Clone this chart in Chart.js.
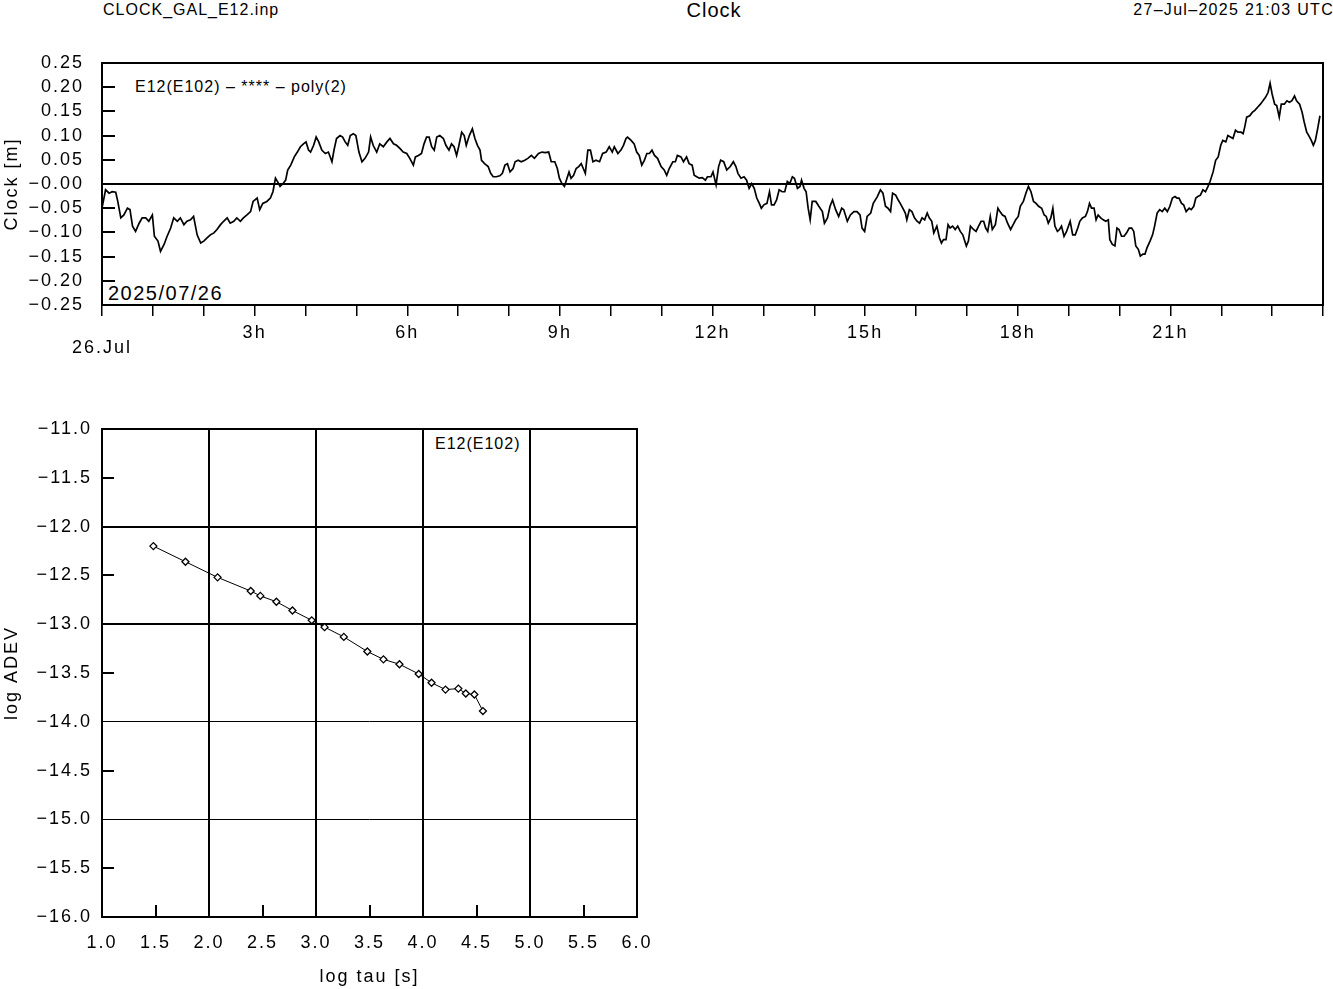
<!DOCTYPE html>
<html>
<head>
<meta charset="utf-8">
<script src="https://cdn.jsdelivr.net/npm/chart.js@4.4.0/dist/chart.umd.min.js"></script>
<style>
  body { margin: 0; background: #fff; width: 1333px; height: 989px; overflow: hidden; position: relative;
         font-family: 'Liberation Sans', Arial, Helvetica, sans-serif; color: #000; }
  .txt { position: absolute; white-space: nowrap; line-height: 1; }
  #clockChart { position: absolute; left: 0; top: 0; }
  #adevChart { position: absolute; left: 0; top: 370px; }
</style>
</head>
<body>
<div class="txt" style="left:103px; top:2px; font-size:16px; letter-spacing:1px;">CLOCK_GAL_E12.inp</div>
<div class="txt" style="left:714px; top:0px; font-size:20px; letter-spacing:1px; transform:translateX(-50%);">Clock</div>
<div class="txt" style="right:-1px; top:2px; font-size:16px; letter-spacing:1.3px;">27–Jul–2025 21:03 UTC</div>
<div class="txt" style="left:135px; top:79px; font-size:16px; letter-spacing:1px;">E12(E102) – **** – poly(2)</div>
<div class="txt" style="left:108px; top:283px; font-size:20px; letter-spacing:1.5px;">2025/07/26</div>
<div class="txt" style="left:435px; top:436px; font-size:16px; letter-spacing:1px;">E12(E102)</div>

<canvas id="clockChart" width="1333" height="370"></canvas>
<canvas id="adevChart" width="1333" height="619"></canvas>

<script>
// clock residuals, hours since 26.Jul 00:00 UTC  / metres
const clockHours = [
  0.00, 0.07, 0.14, 0.20, 0.27, 0.31, 0.37, 0.43, 0.50, 0.55, 0.60, 0.66, 0.73, 0.79, 0.86, 0.92, 0.99,
  1.03, 1.10, 1.15, 1.22, 1.28, 1.35, 1.41, 1.48, 1.54, 1.61, 1.67, 1.74, 1.80, 1.87, 1.94,
  2.00, 2.07, 2.13, 2.20, 2.26, 2.33, 2.39, 2.46, 2.52, 2.59, 2.65, 2.72, 2.78, 2.85, 2.92, 2.97,
  3.05, 3.10, 3.16, 3.24, 3.31, 3.36, 3.41, 3.45, 3.50, 3.56, 3.61, 3.65, 3.71, 3.78, 3.84, 3.90, 3.96,
  4.01, 4.06, 4.10, 4.16, 4.21, 4.26, 4.32, 4.39, 4.45, 4.52, 4.56, 4.61, 4.68, 4.73, 4.78, 4.83, 4.88, 4.94, 4.99,
  5.05, 5.11, 5.17, 5.24, 5.28, 5.33, 5.40, 5.46, 5.53, 5.60, 5.66, 5.73, 5.79, 5.86, 5.92, 5.99,
  6.05, 6.12, 6.16, 6.22, 6.28, 6.33, 6.38, 6.43, 6.48, 6.53, 6.58, 6.64, 6.71, 6.76, 6.82, 6.87, 6.92, 6.97,
  7.01, 7.07, 7.12, 7.16, 7.22, 7.28, 7.33, 7.38, 7.43, 7.46, 7.52, 7.59, 7.64, 7.69, 7.75, 7.82, 7.87, 7.92, 7.97,
  8.02, 8.08, 8.12, 8.18, 8.24, 8.31, 8.37, 8.44, 8.50, 8.58, 8.65, 8.71, 8.78, 8.83, 8.90, 8.95, 8.99,
  9.04, 9.09, 9.14, 9.18, 9.22, 9.27, 9.32, 9.37, 9.42, 9.46, 9.50, 9.55, 9.60, 9.65, 9.71, 9.78, 9.84, 9.91, 9.97,
  10.03, 10.07, 10.14, 10.20, 10.25, 10.30, 10.33, 10.40, 10.46, 10.51, 10.56, 10.61, 10.66, 10.71, 10.76, 10.81, 10.86, 10.92, 10.99,
  11.05, 11.10, 11.15, 11.22, 11.27, 11.31, 11.38, 11.43, 11.49, 11.54, 11.60, 11.64, 11.69, 11.74, 11.80, 11.86, 11.90, 11.97,
  12.01, 12.07, 12.12, 12.16, 12.22, 12.28, 12.35, 12.41, 12.46, 12.50, 12.56, 12.62, 12.67, 12.72, 12.77, 12.82, 12.87, 12.92, 12.96,
  13.01, 13.07, 13.12, 13.16, 13.21, 13.26, 13.31, 13.37, 13.42, 13.47, 13.52, 13.57, 13.61, 13.67, 13.72, 13.75, 13.80, 13.84, 13.88, 13.92, 13.96,
  14.03, 14.09, 14.16, 14.20, 14.26, 14.31, 14.36, 14.42, 14.48, 14.54, 14.58, 14.65, 14.71, 14.78, 14.84, 14.90, 14.94, 14.99,
  15.04, 15.11, 15.16, 15.24, 15.30, 15.35, 15.40, 15.45, 15.50, 15.54, 15.60, 15.65, 15.69, 15.74, 15.79, 15.82, 15.87, 15.92, 15.97,
  16.02, 16.07, 16.12, 16.17, 16.22, 16.26, 16.31, 16.35, 16.41, 16.46, 16.50, 16.54, 16.59, 16.63, 16.67, 16.72, 16.77, 16.82, 16.87, 16.92, 16.95, 16.99,
  17.03, 17.07, 17.13, 17.18, 17.23, 17.28, 17.33, 17.37, 17.41, 17.46, 17.50, 17.56, 17.61, 17.65, 17.70, 17.75, 17.80, 17.86, 17.91, 17.96,
  18.01, 18.05, 18.11, 18.16, 18.21, 18.26, 18.31, 18.36, 18.41, 18.47, 18.52, 18.56, 18.60, 18.65, 18.69, 18.73, 18.78, 18.82, 18.86, 18.91, 18.96,
  19.03, 19.08, 19.13, 19.18, 19.22, 19.27, 19.33, 19.37, 19.41, 19.45, 19.50, 19.54, 19.58, 19.63, 19.68, 19.73, 19.78, 19.81, 19.86, 19.91, 19.95, 19.99,
  20.04, 20.09, 20.14, 20.19, 20.24, 20.28, 20.32, 20.37, 20.41, 20.46, 20.50, 20.54, 20.60, 20.65, 20.69, 20.74, 20.79, 20.84, 20.89, 20.94, 20.99,
  21.04, 21.09, 21.13, 21.17, 21.22, 21.26, 21.31, 21.37, 21.41, 21.46, 21.50, 21.54, 21.59, 21.64, 21.69, 21.74, 21.78, 21.84, 21.89, 21.94, 21.99,
  22.03, 22.09, 22.13, 22.18, 22.23, 22.28, 22.33, 22.39, 22.43, 22.46, 22.50, 22.56, 22.61, 22.66, 22.71, 22.77, 22.82, 22.87, 22.92, 22.96,
  23.00, 23.05, 23.09, 23.14, 23.18, 23.24, 23.29, 23.34, 23.39, 23.44, 23.48, 23.54, 23.59, 23.63, 23.68, 23.72, 23.77, 23.81, 23.85, 23.90, 23.94
];
const clockValues = [
  -0.050, -0.012, -0.019, -0.016, -0.017, -0.036, -0.070, -0.064, -0.050, -0.053, -0.087, -0.098, -0.081, -0.070, -0.070, -0.077, -0.064,
  -0.108, -0.118, -0.139, -0.125, -0.108, -0.091, -0.070, -0.077, -0.070, -0.084, -0.077, -0.074, -0.067, -0.105, -0.122,
  -0.118, -0.111, -0.105, -0.101, -0.094, -0.084, -0.077, -0.070, -0.081, -0.077, -0.070, -0.077, -0.070, -0.064, -0.057, -0.036,
  -0.029, -0.053, -0.040, -0.036, -0.029, -0.016, 0.012, 0.005, -0.005, 0.001, 0.008, 0.029, 0.039, 0.056, 0.066, 0.077, 0.083,
  0.087, 0.070, 0.066, 0.080, 0.097, 0.087, 0.070, 0.063, 0.066, 0.046, 0.070, 0.094, 0.100, 0.097, 0.087, 0.080, 0.100, 0.104, 0.100,
  0.066, 0.046, 0.053, 0.066, 0.097, 0.080, 0.066, 0.083, 0.077, 0.087, 0.094, 0.083, 0.080, 0.073, 0.066, 0.063,
  0.053, 0.039, 0.056, 0.059, 0.063, 0.083, 0.097, 0.097, 0.077, 0.070, 0.097, 0.100, 0.094, 0.080, 0.070, 0.083, 0.077, 0.059,
  0.077, 0.107, 0.100, 0.080, 0.100, 0.114, 0.094, 0.080, 0.070, 0.049, 0.042, 0.036, 0.022, 0.015, 0.015, 0.017, 0.022, 0.039, 0.042,
  0.025, 0.032, 0.046, 0.049, 0.046, 0.049, 0.053, 0.059, 0.053, 0.063, 0.066, 0.065, 0.066, 0.046, 0.046, 0.032, 0.012,
  0.001, -0.005, 0.012, 0.025, 0.012, 0.018, 0.032, 0.036, 0.042, 0.032, 0.022, 0.070, 0.070, 0.046, 0.049, 0.046, 0.063, 0.066, 0.077,
  0.066, 0.077, 0.063, 0.070, 0.080, 0.094, 0.097, 0.090, 0.083, 0.066, 0.059, 0.039, 0.049, 0.063, 0.063, 0.070, 0.059, 0.053, 0.036,
  0.029, 0.018, 0.032, 0.046, 0.046, 0.059, 0.056, 0.046, 0.056, 0.042, 0.039, 0.018, 0.015, 0.012, 0.013, 0.008, 0.015, 0.015,
  0.025, -0.002, 0.036, 0.049, 0.046, 0.029, 0.036, 0.046, 0.036, 0.022, 0.012, 0.015, 0.008, -0.009, 0.001, -0.009, -0.029, -0.040, -0.050,
  -0.043, -0.040, -0.016, -0.043, -0.043, -0.033, -0.012, -0.016, -0.016, 0.005, 0.001, 0.015, 0.012, -0.009, -0.005, 0.008, -0.009, -0.016, -0.050, -0.074, -0.036,
  -0.036, -0.046, -0.057, -0.081, -0.070, -0.046, -0.033, -0.053, -0.067, -0.050, -0.053, -0.077, -0.064, -0.057, -0.057, -0.064, -0.091, -0.098,
  -0.067, -0.060, -0.040, -0.026, -0.012, -0.019, -0.046, -0.050, -0.057, -0.019, -0.023, -0.033, -0.040, -0.050, -0.060, -0.074, -0.053, -0.057, -0.070,
  -0.077, -0.081, -0.070, -0.074, -0.060, -0.070, -0.077, -0.101, -0.087, -0.111, -0.122, -0.115, -0.115, -0.084, -0.091, -0.087, -0.094, -0.087, -0.098, -0.105, -0.115, -0.128,
  -0.118, -0.087, -0.094, -0.098, -0.087, -0.077, -0.077, -0.091, -0.098, -0.067, -0.094, -0.084, -0.050, -0.057, -0.064, -0.067, -0.081, -0.094, -0.084, -0.074,
  -0.067, -0.046, -0.036, -0.019, -0.005, -0.016, -0.036, -0.040, -0.046, -0.050, -0.064, -0.067, -0.081, -0.070, -0.050, -0.087, -0.098, -0.094, -0.087, -0.108, -0.098,
  -0.077, -0.105, -0.105, -0.091, -0.077, -0.070, -0.067, -0.057, -0.040, -0.050, -0.050, -0.074, -0.064, -0.070, -0.074, -0.077, -0.074, -0.115, -0.125, -0.128, -0.091, -0.094,
  -0.108, -0.108, -0.101, -0.091, -0.091, -0.098, -0.128, -0.135, -0.149, -0.145, -0.145, -0.132, -0.118, -0.105, -0.087, -0.060, -0.053, -0.057, -0.050, -0.057, -0.046,
  -0.029, -0.026, -0.029, -0.029, -0.040, -0.043, -0.057, -0.050, -0.053, -0.046, -0.029, -0.026, -0.023, -0.012, -0.016, -0.005, 0.005, 0.025, 0.049, 0.056, 0.080,
  0.090, 0.087, 0.100, 0.097, 0.094, 0.111, 0.107, 0.107, 0.104, 0.117, 0.138, 0.141, 0.148, 0.152, 0.158, 0.165, 0.172, 0.179, 0.189, 0.208,
  0.186, 0.165, 0.162, 0.138, 0.165, 0.165, 0.172, 0.169, 0.172, 0.182, 0.172, 0.165, 0.148, 0.128, 0.107, 0.100, 0.090, 0.080, 0.090, 0.117, 0.141
];

// Allan deviation: log10(tau [s]) / log10(ADEV)
const adevLogTau = [1.48, 1.78, 2.08, 2.39, 2.48, 2.63, 2.78, 2.96, 3.08, 3.26,
                    3.48, 3.63, 3.78, 3.96, 4.08, 4.21, 4.33, 4.40, 4.48, 4.56];
const adevLogSigma = [-12.20, -12.36, -12.52, -12.66, -12.71, -12.77, -12.86, -12.96, -13.03, -13.13,
                      -13.28, -13.36, -13.41, -13.51, -13.60, -13.67, -13.66, -13.71, -13.72, -13.89];

const clockHourLabels = { 0: ['', '26.Jul'], 3: '3h', 6: '6h', 9: '9h', 12: '12h', 15: '15h', 18: '18h', 21: '21h' };

const MINUS = '\u2212';
const FONT = "'Liberation Sans', Arial, Helvetica, sans-serif";

// box around the plot area, inside ticks, letter spacing for canvas text
const framePlugin = {
    id: 'frame',
    beforeUpdate(chart) { chart.ctx.letterSpacing = '2px'; },
    beforeLayout(chart) { chart.ctx.letterSpacing = '2px'; },
    beforeDraw(chart) { chart.ctx.letterSpacing = '2px'; },
    afterDraw(chart, args, opts) {
        const { ctx, chartArea: a, scales } = chart;
        ctx.save();
        ctx.strokeStyle = '#000';
        ctx.lineWidth = 2;
        ctx.strokeRect(a.left, a.top, a.right - a.left, a.bottom - a.top);
        (opts.insideAxes || []).forEach(id => {
            const s = scales[id];
            s.ticks.forEach(t => {
                if (opts.skipIntegers && Number.isInteger(t.value)) return;
                const p = Math.round(s.getPixelForValue(t.value));
                ctx.beginPath();
                if (s.isHorizontal()) {
                    ctx.moveTo(p, a.bottom);
                    ctx.lineTo(p, a.bottom - opts.tickLen);
                } else {
                    ctx.moveTo(a.left, p);
                    ctx.lineTo(a.left + opts.tickLen, p);
                }
                ctx.stroke();
            });
        });
        ctx.restore();
    }
};

Chart.defaults.font.family = FONT;
Chart.defaults.font.size = 18;
Chart.defaults.color = '#000';

// Clock
new Chart(document.getElementById('clockChart'), {
    type: 'line',
    data: {
        datasets: [{
            data: clockHours.map((h, i) => ({ x: h, y: clockValues[i] })),
            borderColor: '#000',
            borderWidth: 1.7,
            pointRadius: 0,
            tension: 0,
            fill: false
        }]
    },
    options: {
        responsive: false,
        animation: false,
        events: [],
        layout: { padding: { top: 63, right: 8, left: 0, bottom: 0 } },
        plugins: {
            legend: { display: false },
            tooltip: { enabled: false },
            frame: { insideAxes: ['y'], tickLen: 13 }
        },
        scales: {
            x: {
                type: 'linear',
                min: 0,
                max: 24,
                afterFit: s => { s.height = 65; },
                border: { display: false },
                grid: { drawOnChartArea: false, drawTicks: true, tickLength: 11, color: '#000', lineWidth: 1.5 },
                ticks: {
                    stepSize: 1,
                    autoSkip: false,
                    maxRotation: 0,
                    padding: 10,
                    font: { size: 18, lineHeight: 0.8 },
                    callback: v => clockHourLabels[v] || ''
                }
            },
            y: {
                min: -0.25,
                max: 0.25,
                afterFit: s => { s.width = 102; },
                border: { display: false },
                grid: {
                    drawTicks: false,
                    color: c => (c.tick && Math.abs(c.tick.value) < 1e-9) ? '#000' : 'rgba(0,0,0,0)',
                    lineWidth: 2
                },
                ticks: {
                    stepSize: 0.05,
                    autoSkip: false,
                    padding: 18,
                    callback: v => {
                        const r = Math.round(v * 100) / 100;
                        return r <= 0 ? MINUS + Math.abs(r).toFixed(2) : r.toFixed(2);
                    }
                },
                title: { display: true, text: 'Clock [m]', font: { size: 18 }, padding: { top: 1, bottom: 0 } }
            }
        }
    },
    plugins: [framePlugin]
});

// Allan deviation
new Chart(document.getElementById('adevChart'), {
    type: 'line',
    data: {
        datasets: [{
            data: adevLogTau.map((t, i) => ({ x: t, y: adevLogSigma[i] })),
            borderColor: '#000',
            borderWidth: 1,
            pointStyle: 'rectRot',
            pointRadius: 3.5,
            pointBorderWidth: 1.3,
            pointBackgroundColor: '#fff',
            pointBorderColor: '#000',
            tension: 0,
            fill: false
        }]
    },
    options: {
        responsive: false,
        animation: false,
        events: [],
        layout: { padding: { top: 59, right: 696, left: 0, bottom: 0 } },
        plugins: {
            legend: { display: false },
            tooltip: { enabled: false },
            frame: { insideAxes: ['x', 'y'], tickLen: 12, skipIntegers: true }
        },
        scales: {
            x: {
                type: 'linear',
                min: 1,
                max: 6,
                afterFit: s => { s.height = 72; },
                border: { display: false },
                grid: {
                    drawTicks: false,
                    color: c => (c.tick && Number.isInteger(c.tick.value)) ? '#000' : 'rgba(0,0,0,0)',
                    lineWidth: 2
                },
                ticks: { stepSize: 0.5, autoSkip: false, maxRotation: 0, padding: 15, callback: v => v.toFixed(1) },
                title: { display: true, text: 'log tau [s]', font: { size: 18 }, padding: { top: 0, bottom: 1 } }
            },
            y: {
                min: -16,
                max: -11,
                afterFit: s => { s.width = 102; },
                border: { display: false },
                grid: {
                    drawTicks: false,
                    color: c => (c.tick && Number.isInteger(c.tick.value)) ? '#000' : 'rgba(0,0,0,0)',
                    lineWidth: c => (c.tick && c.tick.value >= -13) ? 2 : 1
                },
                ticks: {
                    stepSize: 0.5,
                    autoSkip: false,
                    padding: 10,
                    callback: v => (v < 0 ? MINUS : '') + Math.abs(v).toFixed(1)
                },
                title: { display: true, text: 'log ADEV', font: { size: 18 }, padding: { top: 1, bottom: 0 } }
            }
        }
    },
    plugins: [framePlugin]
});
</script>
</body>
</html>
